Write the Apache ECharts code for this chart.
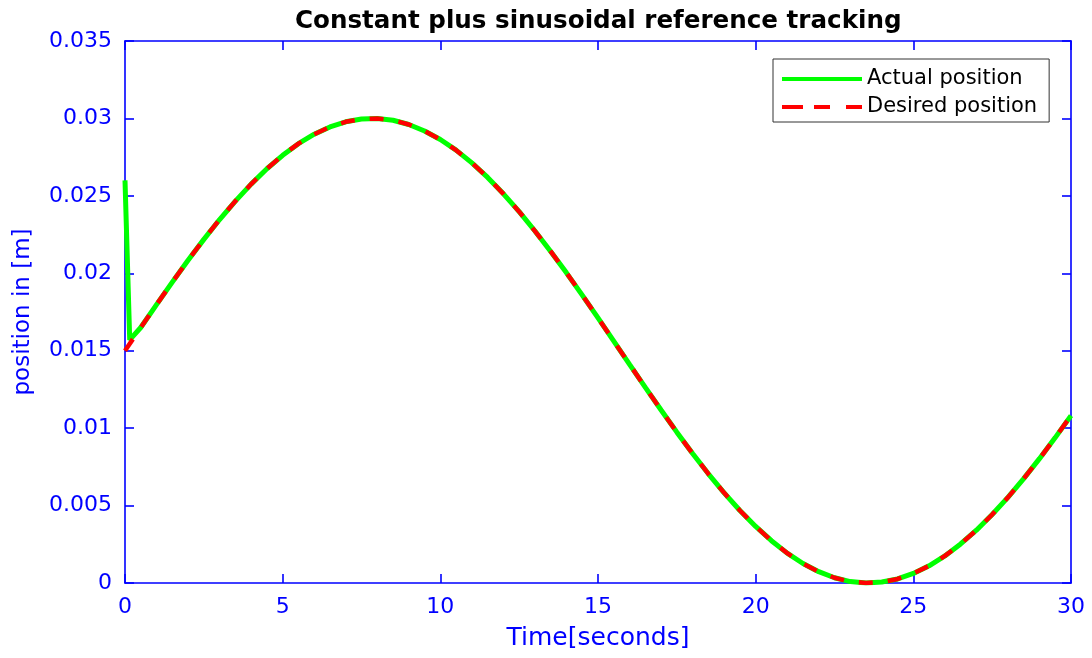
<!DOCTYPE html>
<html>
<head>
<meta charset="utf-8">
<script src="https://cdn.jsdelivr.net/npm/echarts@6/dist/echarts.min.js"></script>
<style>
html,body{margin:0;padding:0;background:#fff;}
#chart{width:1092px;height:658px;}
</style>
</head>
<body>
<div id="chart"></div>
<script>
// Time samples (seconds)
const timeDesired = [0,0.5,1,1.5,2,2.5,3,3.5,4,4.5,5,5.5,6,6.5,7,7.5,8,8.5,9,9.5,10,10.5,11,11.5,12,12.5,13,13.5,14,14.5,15,15.5,16,16.5,17,17.5,18,18.5,19,19.5,20,20.5,21,21.5,22,22.5,23,23.5,24,24.5,25,25.5,26,26.5,27,27.5,28,28.5,29,29.5,30];
// Desired position [m]
const desiredPos = [0.01500,0.01650,0.01798,0.01943,0.02084,0.02219,0.02347,0.02466,0.02576,0.02675,0.02762,0.02837,0.02898,0.02945,0.02978,0.02996,0.02999,0.02988,0.02961,0.02919,0.02864,0.02795,0.02713,0.02619,0.02513,0.02398,0.02273,0.02141,0.02003,0.01859,0.01712,0.01562,0.01412,0.01263,0.01117,0.00974,0.00836,0.00705,0.00582,0.00468,0.00365,0.00273,0.00193,0.00126,0.00073,0.00034,0.00009,0.00000,0.00006,0.00026,0.00062,0.00111,0.00175,0.00252,0.00341,0.00442,0.00553,0.00674,0.00803,0.00939,0.01081];
// Actual position: initial transient then tracking
const timeActual = [0,0.15,0.5,1,1.5,2,2.5,3,3.5,4,4.5,5,5.5,6,6.5,7,7.5,8,8.5,9,9.5,10,10.5,11,11.5,12,12.5,13,13.5,14,14.5,15,15.5,16,16.5,17,17.5,18,18.5,19,19.5,20,20.5,21,21.5,22,22.5,23,23.5,24,24.5,25,25.5,26,26.5,27,27.5,28,28.5,29,29.5,30];
const actualPos = [0.02600,0.01570,0.01650,0.01798,0.01943,0.02084,0.02219,0.02347,0.02466,0.02576,0.02675,0.02762,0.02837,0.02898,0.02945,0.02978,0.02996,0.02999,0.02988,0.02961,0.02919,0.02864,0.02795,0.02713,0.02619,0.02513,0.02398,0.02273,0.02141,0.02003,0.01859,0.01712,0.01562,0.01412,0.01263,0.01117,0.00974,0.00836,0.00705,0.00582,0.00468,0.00365,0.00273,0.00193,0.00126,0.00073,0.00034,0.00009,0.00000,0.00006,0.00026,0.00062,0.00111,0.00175,0.00252,0.00341,0.00442,0.00553,0.00674,0.00803,0.00939,0.01081];

const titleText = 'Constant plus sinusoidal reference tracking';
const xName = 'Time[seconds]';
const yName = 'position in [m]';
const seriesNames = ['Actual position', 'Desired position'];

const BLUE = '#0000ff';
const GREEN = '#00ff00';
const RED = '#ff0000';
const FONT = '"DejaVu Sans", "Liberation Sans", Arial, sans-serif';

const chart = echarts.init(document.getElementById('chart'), null, {renderer:'canvas'});
const axisCommon = {
  axisLine: {show:true, onZero:false, lineStyle:{color:BLUE, width:1.6}},
  axisTick: {show:true, inside:true, length:9, lineStyle:{color:BLUE, width:1.6}},
  splitLine: {show:false}
};
chart.setOption({
  animation:false,
  backgroundColor:'#fff',
  title:{
    text:titleText,
    left:290, top:4,
    textStyle:{fontFamily:FONT, fontWeight:'bold', fontSize:24.6, color:'#000'}
  },
  grid:{left:125, right:21, top:41, bottom:75, containLabel:false},
  legend:{
    orient:'vertical',
    left:773, top:59,
    padding:[9,12,4,9],
    itemWidth:80, itemHeight:4, itemGap:6,
    backgroundColor:'#fff',
    borderColor:'#333', borderWidth:1,
    textStyle:{fontFamily:FONT, fontSize:21, color:'#000', lineHeight:22},
    itemStyle:{borderWidth:0},
    data:[
      {name:seriesNames[0], icon:'path://M0,0H80V4H0Z', itemStyle:{color:GREEN, borderWidth:0}},
      {name:seriesNames[1], icon:'path://M0,0H21V4H0Z M32,0H48V4H32Z M64,0H80V4H64Z', itemStyle:{color:RED, borderWidth:0}}
    ]
  },
  xAxis:[
    Object.assign({
      type:'value', min:0, max:30, interval:5, position:'bottom',
      name:xName, nameLocation:'middle', nameGap:43,
      nameTextStyle:{fontFamily:FONT, fontSize:25, color:BLUE},
      axisLabel:{fontFamily:FONT, fontSize:22, color:BLUE, margin:13}
    }, axisCommon),
    Object.assign({
      type:'value', min:0, max:30, interval:5, position:'top',
      axisLabel:{show:false}
    }, axisCommon)
  ],
  yAxis:[
    Object.assign({
      type:'value', min:0, max:0.035, interval:0.005, position:'left',
      name:yName, nameLocation:'middle', nameGap:90,
      nameTextStyle:{fontFamily:FONT, fontSize:23, color:BLUE},
      axisLabel:{fontFamily:FONT, fontSize:22, color:BLUE, margin:13,
        formatter:v=>String(+v.toFixed(3))}
    }, axisCommon),
    Object.assign({
      type:'value', min:0, max:0.035, interval:0.005, position:'right',
      axisLabel:{show:false}
    }, axisCommon)
  ],
  series:[
    {
      name:seriesNames[0], type:'line', xAxisIndex:0, yAxisIndex:0,
      data:timeActual.map((t,i)=>[t, actualPos[i]]),
      showSymbol:false, symbol:'none', smooth:false,
      lineStyle:{color:GREEN, width:5},
      itemStyle:{color:GREEN}
    },
    {
      name:seriesNames[1], type:'line', xAxisIndex:0, yAxisIndex:0,
      data:timeDesired.map((t,i)=>[t, desiredPos[i]]),
      showSymbol:false, symbol:'none', smooth:false,
      lineStyle:{color:RED, width:4.5, type:[14,15]},
      itemStyle:{color:RED}
    }
  ]
});
</script>
</body>
</html>
